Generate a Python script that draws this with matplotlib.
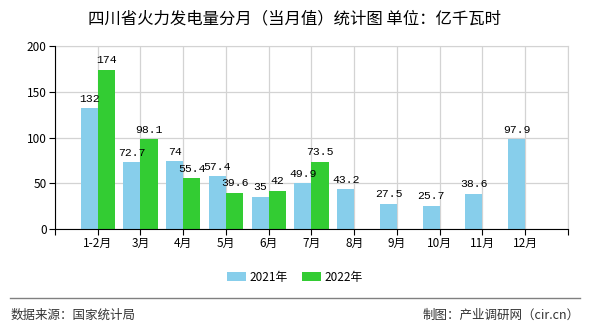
import numpy as np
import matplotlib.pyplot as plt
from matplotlib.lines import Line2D

plt.rcParams['font.family'] = ['Noto Sans CJK SC', 'DejaVu Sans']

months = ['1-2月', '3月', '4月', '5月', '6月', '7月', '8月', '9月', '10月', '11月', '12月']
values_2021 = [132, 72.7, 74, 57.4, 35, 49.9, 43.2, 27.5, 25.7, 38.6, 97.9]
values_2022 = [174, 98.1, 55.4, 39.6, 42, 73.5]
series_names = ['2021年', '2022年']
colors = ['#87CEEB', '#33CC33']

fig = plt.figure(figsize=(5.9, 3.3), dpi=100)
ax = fig.add_axes([0.0932, 0.306, 0.8695, 0.5546])

x = np.arange(1, len(months) + 1)
w = 0.4
ax.bar(x - w / 2, values_2021, width=w, color=colors[0], label=series_names[0], zorder=3)
x2 = x[:len(values_2022)]
ax.bar(x2 + w / 2, values_2022, width=w, color=colors[1], label=series_names[1], zorder=3)

def fmt(v):
    return str(int(v)) if float(v).is_integer() else str(v)

# value labels, monospace like the original
lbl_font = dict(family='Liberation Mono', fontsize=8.2)
for xi, v in zip(x, values_2021):
    ax.text(xi - w / 2, v + 5, fmt(v), ha='center', va='bottom', zorder=4, **lbl_font)
for xi, v in zip(x2, values_2022):
    ax.text(xi + w / 2, v + 5, fmt(v), ha='center', va='bottom', zorder=4, **lbl_font)

ax.set_xlim(0, 12)
ax.set_ylim(0, 200)
ax.set_xticks(np.arange(0, 13))
ax.set_xticklabels([''] + months + [''], fontsize=8.5)
ax.set_yticks([0, 50, 100, 150, 200])
ax.tick_params(axis='y', labelsize=8.5, length=4, pad=2)
ax.tick_params(axis='x', length=4, pad=2)
ax.grid(True, color='#d3d3d3', linewidth=0.9, zorder=0)
for s in ['top', 'right']:
    ax.spines[s].set_color('#d3d3d3')
for s in ['left', 'bottom']:
    ax.spines[s].set_color('black')
    ax.spines[s].set_zorder(5)

fig.text(0.5, 0.942, '四川省火力发电量分月（当月值）统计图 单位：亿千瓦时',
         ha='center', va='center', fontsize=11.8)

handles, labels = ax.get_legend_handles_labels()
fig.legend(handles, labels, loc='center', bbox_to_anchor=(0.5, 0.16), ncol=2,
           frameon=False, fontsize=8.5, handlelength=1.6, handleheight=0.7,
           handletextpad=0.3, columnspacing=1.2)

fig.add_artist(Line2D([0.017, 0.983], [0.097, 0.097], color='#808080', linewidth=1))
fig.text(0.017, 0.045, '数据来源：国家统计局', ha='left', va='center', fontsize=9, color='#333333')
fig.text(0.983, 0.045, '制图：产业调研网（cir.cn）', ha='right', va='center', fontsize=9, color='#333333')

fig.savefig('out.png', dpi=100)
